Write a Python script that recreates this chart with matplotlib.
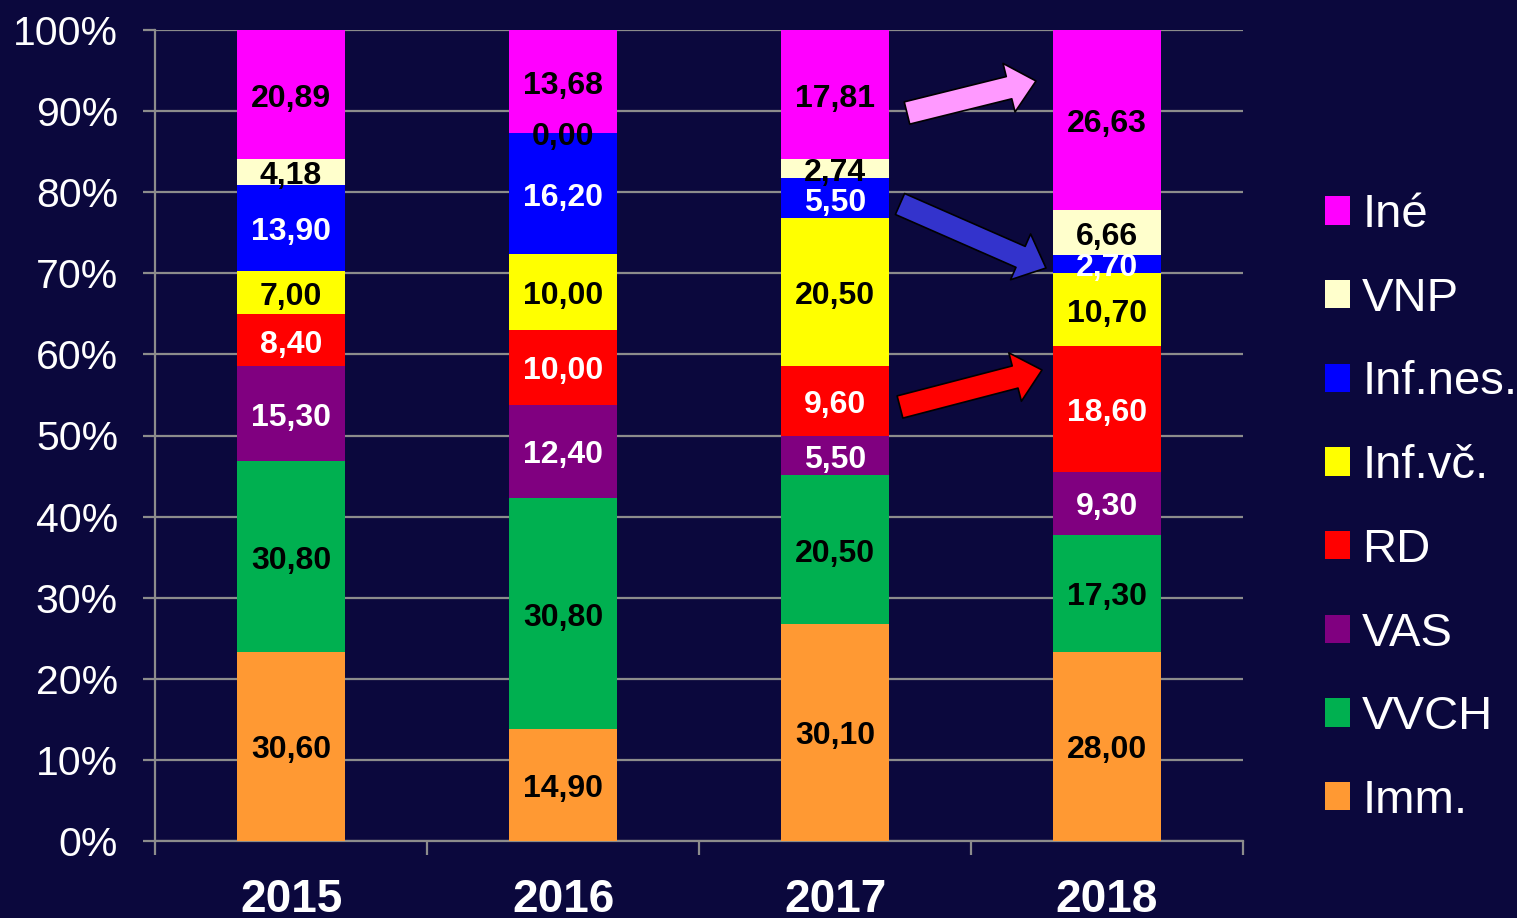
import matplotlib
matplotlib.use("Agg")
import matplotlib.pyplot as plt
import numpy as np
from matplotlib.patches import Patch, FancyArrowPatch
from matplotlib.transforms import offset_copy

plt.rcParams['font.family'] = ['Liberation Sans', 'DejaVu Sans']

years = ['2015', '2016', '2017', '2018']
series_names = ['Imm.', 'VVCH', 'VAS', 'RD', 'Inf.vč.', 'Inf.nes.', 'VNP', 'Iné']
imm = [30.60, 14.90, 30.10, 28.00]
vvch = [30.80, 30.80, 20.50, 17.30]
vas = [15.30, 12.40, 5.50, 9.30]
rd = [8.40, 10.00, 9.60, 18.60]
inf_vc = [7.00, 10.00, 20.50, 10.70]
inf_nes = [13.90, 16.20, 5.50, 2.70]
vnp = [4.18, 0.00, 2.74, 6.66]
ine = [20.89, 13.68, 17.81, 26.63]

colors = ['#ff9933', '#00b050', '#800080', '#ff0000', '#ffff00', '#0000ff', '#ffffcc', '#ff00ff']
label_colors = ['black', 'black', 'white', 'white', 'black', 'white', 'black', 'black']

data = np.array([imm, vvch, vas, rd, inf_vc, inf_nes, vnp, ine])
totals = data.sum(axis=0)
pct = data / totals * 100

bg = '#0b083d'
fig = plt.figure(figsize=(15.17, 9.18), dpi=100, facecolor=bg)
ax = fig.add_axes([155/1517, 77/918, 1088/1517, 811/918], facecolor=bg)

x = np.arange(len(years))
bottom = np.zeros(len(years))
lbl_tr = offset_copy(ax.transData, fig=fig, x=0, y=-3, units='points')
for i, name in enumerate(series_names):
    ax.bar(x, pct[i], 0.4, bottom=bottom, color=colors[i], label=name, zorder=3, linewidth=0)
    for j in range(len(years)):
        yc = bottom[j] + pct[i][j] / 2
        ax.text(x[j], yc, f"{data[i][j]:.2f}".replace('.', ','), ha='center', va='center',
                fontsize=23, fontweight='bold', color=label_colors[i], zorder=5,
                transform=lbl_tr)
    bottom += pct[i]

ax.set_xlim(-0.5, 3.5)
ax.set_ylim(0, 100)
ax.set_yticks(np.arange(0, 101, 10))
ax.set_yticklabels([f"{v}%" for v in range(0, 101, 10)], fontsize=29.5, color='white')
ax.yaxis.grid(True, color='#8c8c8c', linewidth=1.6, zorder=0)
ax.set_axisbelow(True)
ax.tick_params(axis='y', length=8.6, width=1.6, color='#8c8c8c', pad=18)

ax.set_xticks(x)
ax.set_xticklabels(years, fontsize=33, fontweight='bold', color='white')
ax.set_xticks(np.arange(-0.5, 3.6, 1), minor=True)
ax.tick_params(axis='x', which='major', length=0, pad=27)
ax.tick_params(axis='x', which='minor', length=10, width=1.6, color='#8c8c8c', direction='out')

for s in ['top', 'right']:
    ax.spines[s].set_visible(False)
for s in ['left', 'bottom']:
    ax.spines[s].set_color('#8c8c8c')
    ax.spines[s].set_linewidth(1.6)

# Arrows
def arrow(p0, p1, fc):
    a = FancyArrowPatch(p0, p1, arrowstyle='simple,head_length=2.0,head_width=3.6,tail_width=1.65',
                        mutation_scale=10, fc=fc, ec='black', lw=1.2, zorder=6,
                        shrinkA=0, shrinkB=0, clip_on=False)
    ax.add_patch(a)

def px2data(px, py):
    return ((px - 155) / 272 - 0.5, (841 - py) / 811 * 100)

arrow(px2data(907, 113), px2data(1036, 81), '#ff99ff')
arrow(px2data(900, 204), px2data(1046, 268), '#3333cc')
arrow(px2data(900, 407), px2data(1042, 370), '#ff0000')

handles = [Patch(facecolor=colors[i], edgecolor='none', label=series_names[i]) for i in range(len(series_names))][::-1]
leg = fig.legend(handles=handles, loc='center left', bbox_to_anchor=(1282/1517, 1 - 508/918),
                 frameon=False, fontsize=34, handlelength=0.55, handleheight=0.55,
                 handletextpad=0.25, labelspacing=0.84, labelcolor='white')

fig.savefig('out.png', dpi=100, facecolor=bg)
